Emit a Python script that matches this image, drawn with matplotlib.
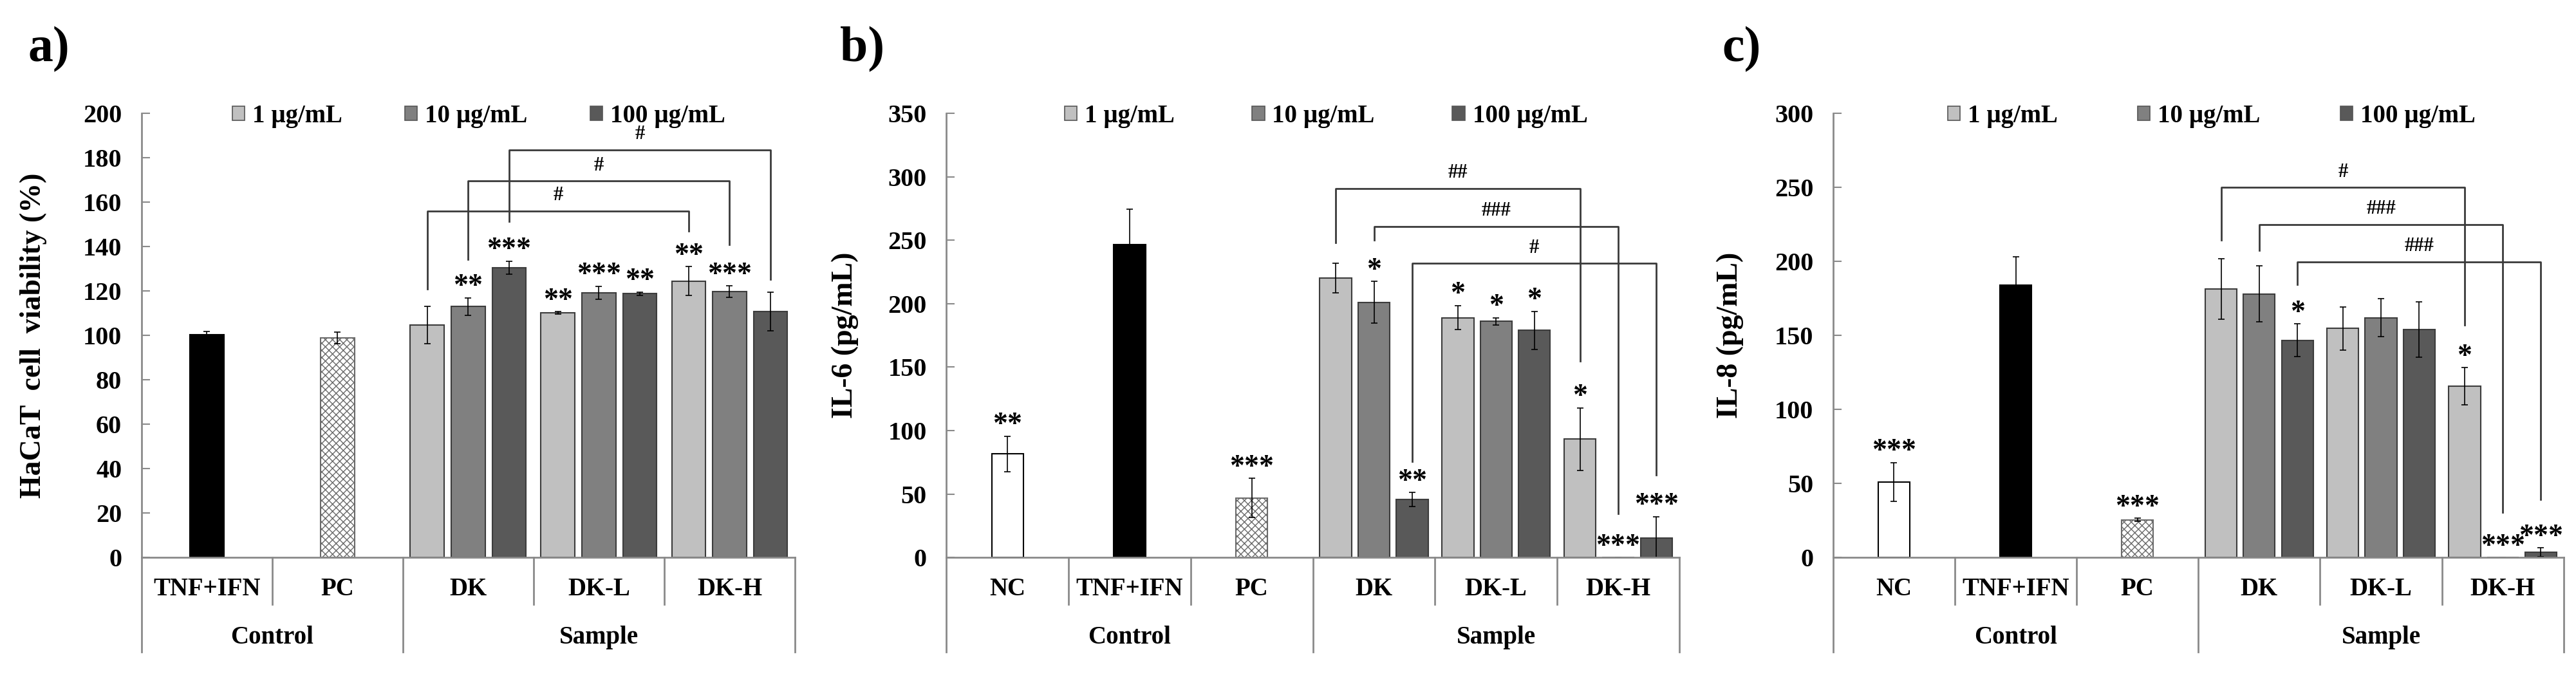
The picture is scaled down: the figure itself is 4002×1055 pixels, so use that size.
import numpy as np
import matplotlib
matplotlib.use("Agg")
import matplotlib.pyplot as plt
from matplotlib.patches import Patch

plt.rcParams['font.family'] = ['Liberation Serif', 'DejaVu Serif']
plt.rcParams['font.weight'] = 'bold'
plt.rcParams['axes.labelweight'] = 'bold'
plt.rcParams['hatch.linewidth'] = 1.0

# shared
doses = ['1 µg/mL', '10 µg/mL', '100 µg/mL']
samples = ['DK', 'DK-L', 'DK-H']

# a) HaCaT cell viability
a_ctrl = ['TNF+IFN', 'PC']
a_ctrl_val = [100.2, 98.8]
a_ctrl_err = [1.7, 2.6]
a_ctrl_star = ['', '']
a_val = [[104.8, 113.0, 130.5], [110.2, 119.2, 118.8], [124.5, 119.7, 110.8]]
a_err = [[8.4, 4.0, 3.0], [0.5, 3.0, 0.8], [6.5, 2.6, 8.8]]
a_star = [['', '**', '***'], ['**', '***', '**'], ['**', '***', '']]
# (dose index DK -> DK-H, top, left leg end, right leg end, label)
a_brackets = [(0, 156, 121, 147, '#'), (1, 169.5, 134.2, 141, '#'), (2, 183.5, 151.5, 125.4, '#')]

# b) IL-6
b_ctrl = ['NC', 'TNF+IFN', 'PC']
b_ctrl_val = [81.6, 246.5, 46.8]
b_ctrl_err = [14.0, 28.0, 15.5]
b_ctrl_star = ['**', '', '***']
b_val = [[220.2, 201.0, 45.7], [189.0, 186.0, 179.0], [93.2, 0.0, 15.4]]
b_err = [[11.6, 16.5, 5.5], [9.6, 3.0, 15.0], [24.6, 0.0, 16.8]]
b_star = [['', '*', '**'], ['*', '*', '*'], ['*', '***', '***']]
b_brackets = [(0, 290.9, 248, 155, '##'), (1, 261, 250, 34.5, '###'), (2, 231.8, 75.7, 65, '#')]

# c) IL-8
c_ctrl = ['NC', 'TNF+IFN', 'PC']
c_ctrl_val = [51.0, 183.8, 25.4]
c_ctrl_err = [13.0, 19.3, 1.0]
c_ctrl_star = ['***', '', '***']
c_val = [[181.5, 178.0, 146.8], [154.7, 162.0, 154.0], [115.8, 0.0, 3.5]]
c_err = [[20.5, 19.0, 11.0], [14.6, 13.0, 18.7], [12.5, 0.0, 3.0]]
c_star = [['', '', '*'], ['', '', ''], ['*', '***', '***']]
c_brackets = [(0, 250, 214.4, 156.9, '#'), (1, 225, 207.6, 30.6, '###'), (2, 199.8, 184.3, 39.4, '###')]

dose_colors = ['#c0c0c0', '#808080', '#595959']
ctrl_style = {
    'NC': dict(color='white', edgecolor='black'),
    'TNF+IFN': dict(color='black', edgecolor='black'),
    'PC': dict(color='white', edgecolor='#6a6a6a', hatch='xxx'),
}
axis_gray = '#8a8a8a'
bar_edge = '#3c3c3c'
offsets = [-0.313, 0.0, 0.313]
bw = 0.26
err_kw = dict(ecolor='black', elinewidth=1.2, capsize=3.5, capthick=1.2)


def put_star(ax, x, y, s):
    if s:
        ax.annotate(s, (x, y), xytext=(0, 4), textcoords='offset points',
                    ha='center', va='baseline', fontsize=33)


def draw_panel(ax, ctrl, ctrl_val, ctrl_err, ctrl_star, val, err, star, brackets,
               ymax, ystep, ylabel, ylab_x, leg_x, colspace):
    nc = len(ctrl)
    ncat = nc + len(samples)

    for i, name in enumerate(ctrl):
        ax.bar(i, ctrl_val[i], bw, yerr=ctrl_err[i], error_kw=err_kw,
               linewidth=1.5, **ctrl_style[name])
        put_star(ax, i, ctrl_val[i] + ctrl_err[i], ctrl_star[i])

    for j in range(len(samples)):
        for k in range(len(doses)):
            x = nc + j + offsets[k]
            ax.bar(x, val[j][k], bw, yerr=err[j][k], error_kw=err_kw,
                   color=dose_colors[k], edgecolor=bar_edge, linewidth=1.5)
            put_star(ax, x, val[j][k] + err[j][k], star[j][k])

    # comparison brackets DK vs DK-H
    for k, top, yl, yr, lab in brackets:
        x1 = nc + offsets[k]
        x2 = nc + 2 + offsets[k]
        ax.plot([x1, x1, x2, x2], [yl, top, top, yr], color='#3a3a3a', lw=2, zorder=3)
        ax.annotate(lab, ((x1 + x2) / 2, top), xytext=(0, 12), textcoords='offset points',
                    ha='center', va='baseline', fontsize=22)

    ax.set_xlim(-0.5, ncat - 0.5)
    ax.set_ylim(0, ymax)
    ax.set_yticks(np.arange(0, ymax + 1, ystep))
    ax.set_xticks([])
    for sp in ['top', 'right']:
        ax.spines[sp].set_visible(False)
    for sp in ['left', 'bottom']:
        ax.spines[sp].set_color(axis_gray)
        ax.spines[sp].set_linewidth(2)
    ax.tick_params(axis='y', direction='in', length=9, width=1.5, color=axis_gray,
                   labelsize=29, pad=22)

    # category table under the axis
    tr = ax.get_xaxis_transform()
    for b in np.arange(ncat + 1) - 0.5:
        long_line = b in (-0.5, nc - 0.5, ncat - 0.5)
        ax.plot([b, b], [0, -0.213 if long_line else -0.106], transform=tr,
                clip_on=False, color=axis_gray, lw=2)
    for i, name in enumerate(list(ctrl) + samples):
        ax.text(i, -0.072, name, transform=tr, ha='center', va='center', fontsize=28)
    ax.text((nc - 1) / 2, -0.18, 'Control', transform=tr, ha='center', va='center', fontsize=28)
    ax.text(nc + 1, -0.18, 'Sample', transform=tr, ha='center', va='center', fontsize=28)

    ax.set_ylabel(ylabel, fontsize=33, fontweight='bold', va='center')
    ax.yaxis.set_label_coords(ylab_x, 0.5)

    handles = [Patch(facecolor=c, edgecolor='#555555', linewidth=1.2) for c in dose_colors]
    ax.legend(handles, doses, loc='center', bbox_to_anchor=(leg_x, 0.994), ncol=3,
              frameon=False, fontsize=28, handlelength=0.5, handleheight=0.5,
              handletextpad=0.3, columnspacing=colspace, borderpad=0, borderaxespad=0)


fig = plt.figure(figsize=(40.02, 10.55), dpi=100)
bottom, height = 0.179, 0.654
ax_a = fig.add_axes([0.0549, bottom, 0.2537, height])
ax_b = fig.add_axes([0.3674, bottom, 0.2845, height])
ax_c = fig.add_axes([0.7116, bottom, 0.2836, height])

draw_panel(ax_a, a_ctrl, a_ctrl_val, a_ctrl_err, a_ctrl_star, a_val, a_err, a_star,
           a_brackets, 200, 20, 'HaCaT  cell  viability (%)', -0.165, 0.516, 2.5)
draw_panel(ax_b, b_ctrl, b_ctrl_val, b_ctrl_err, b_ctrl_star, b_val, b_err, b_star,
           b_brackets, 350, 50, 'IL-6 (pg/mL)', -0.138, 0.518, 3.1)
draw_panel(ax_c, c_ctrl, c_ctrl_val, c_ctrl_err, c_ctrl_star, c_val, c_err, c_star,
           c_brackets, 300, 50, 'IL-8 (pg/mL)', -0.141, 0.518, 3.2)

for x, lab in [(43, 'a)'), (1305, 'b)'), (2675, 'c)')]:
    fig.text(x / 4002, 1 - 77 / 1055, lab, ha='left', va='center', fontsize=56)

fig.savefig('out.png', dpi=100)
